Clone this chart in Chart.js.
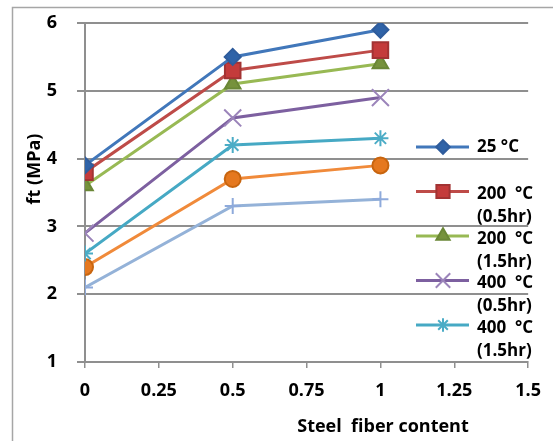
<!DOCTYPE html>
<html>
<head>
<meta charset="utf-8">
<script src="https://cdn.jsdelivr.net/npm/chart.js@4.4.0/dist/chart.umd.min.js"></script>
<style>
  html, body { margin: 0; padding: 0; background: #fff; }
  #wrap { width: 553px; height: 441px; }
</style>
</head>
<body>
<div id="wrap"><canvas id="myChart"></canvas></div>
<script>
// steel fiber content (x) and ft (MPa) per exposure
var fiber = [0, 0.5, 1];
var t25 = [3.9, 5.5, 5.9];
var t200h05 = [3.8, 5.3, 5.6];
var t200h15 = [3.6, 5.1, 5.4];
var t400h05 = [2.9, 4.6, 4.9];
var t400h15 = [2.6, 4.2, 4.3];
var t600h05 = [2.4, 3.7, 3.9];
var t600h15 = [2.1, 3.3, 3.4];

var seriesNames = ['25 °C', '200  °C\n(0.5hr)', '200  °C\n(1.5hr)', '400  °C\n(0.5hr)', '400  °C\n(1.5hr)', '600  °C\n(0.5hr)', '600  °C\n(1.5hr)'];
var xTicks = [0, 0.25, 0.5, 0.75, 1, 1.25, 1.5];
var yTicks = [1, 2, 3, 4, 5, 6];

var FONT = '"Open Sans", Lato, sans-serif';

function pts(vals) {
    return fiber.map(function(x, i) { return { x: x, y: vals[i] }; });
}

function series(i, vals, color, style, radius, markFill, markLine) {
    return {
        label: seriesNames[i],
        data: pts(vals),
        borderColor: color,
        borderWidth: 3,
        pointStyle: style,
        pointRadius: radius,
        pointHoverRadius: radius,
        pointBackgroundColor: markFill,
        pointBorderColor: markLine,
        pointBorderWidth: 2,
        tension: 0,
        fill: false
    };
}

// draws the frame, axis titles and the overlapping legend like the source
var decor = {
    id: 'decor',
    beforeDraw: function(chart) {
        var ctx = chart.ctx;
        ctx.save();
        ctx.strokeStyle = '#a6a6a6';
        ctx.lineWidth = 1.5;
        ctx.strokeRect(12.5, 7.5, 600, 500);
        ctx.restore();
    },
    afterDraw: function(chart) {
        var ctx = chart.ctx;
        ctx.save();
        ctx.fillStyle = '#000';
        ctx.font = 'bold 18px ' + FONT;
        ctx.textAlign = 'center';
        ctx.textBaseline = 'middle';
        ctx.fillText('Steel  fiber content', 383, 427);
        ctx.translate(35, 169);
        ctx.rotate(-Math.PI / 2);
        ctx.fillText('ft (MPa)', 0, 0);
        ctx.restore();

        // legend: only five entries fit in the original
        ctx.save();
        for (var i = 0; i < 5; i++) {
            var ds = chart.data.datasets[i];
            var y = 147 + i * 44.5;
            ctx.strokeStyle = ds.borderColor;
            ctx.lineWidth = 3;
            ctx.beginPath();
            ctx.moveTo(416, y);
            ctx.lineTo(469, y);
            ctx.stroke();
            ctx.fillStyle = ds.pointBackgroundColor;
            ctx.strokeStyle = ds.pointBorderColor;
            ctx.lineWidth = 2;
            Chart.helpers.drawPoint(ctx, {
                pointStyle: ds.pointStyle, radius: ds.pointRadius * 0.85, rotation: 0, borderWidth: 2
            }, 443, y);
            var lines = ds.label.split('\n');
            ctx.fillStyle = '#000';
            ctx.font = 'bold 17px ' + FONT;
            ctx.textAlign = 'left';
            ctx.textBaseline = 'middle';
            for (var k = 0; k < lines.length; k++) {
                ctx.fillText(lines[k], 477, y + (lines.length > 1 ? 3 : 0) + k * 23);
            }
        }
        ctx.restore();
    }
};

new Chart(document.getElementById('myChart').getContext('2d'), {
    type: 'line',
    data: {
        datasets: [
            series(0, t25, '#4177BA', 'rectRot', 8, '#2F63A8', '#2F5C9C'),
            series(1, t200h05, '#BE4B48', 'rect', 11, '#C43B3B', '#A23333'),
            series(2, t200h15, '#98B954', 'triangle', 9, '#76923C', '#6A8736'),
            series(3, t400h05, '#7D60A0', 'crossRot', 12, '#9B84BA', '#9B84BA'),
            series(4, t400h15, '#46A9C4', 'star', 8, '#4BACC6', '#4BACC6'),
            series(5, t600h05, '#F08A3A', 'circle', 8, '#E5781F', '#C8650F'),
            series(6, t600h15, '#94B2D8', 'cross', 8, '#8EAADB', '#8EAADB')
        ]
    },
    options: {
        responsive: true,
        maintainAspectRatio: false,
        animation: false,
        events: [],
        layout: { padding: { top: 23, right: 20, left: 0, bottom: 0 } },
        plugins: {
            legend: { display: false },
            tooltip: { enabled: false }
        },
        scales: {
            x: {
                type: 'linear',
                min: 0,
                max: 1.5,
                afterBuildTicks: function(s) { s.ticks = xTicks.map(function(v) { return { value: v }; }); },
                afterFit: function(s) { s.height = 79; },
                grid: { drawOnChartArea: false, color: '#8f8f8f', lineWidth: 1.5, tickLength: 6 },
                border: { color: '#8f8f8f', width: 2 },
                ticks: {
                    color: '#000', padding: 12, maxRotation: 0,
                    font: { family: FONT, size: 18, weight: 'bold' },
                    callback: function(v) { return String(v); }
                }
            },
            y: {
                min: 1,
                max: 6,
                afterBuildTicks: function(s) { s.ticks = yTicks.map(function(v) { return { value: v }; }); },
                afterFit: function(s) { s.width = 85; s.paddingTop = 10; s.paddingBottom = 10; },
                grid: { color: '#8f8f8f', lineWidth: 2, tickLength: 8 },
                border: { color: '#8f8f8f', width: 2 },
                ticks: { color: '#000', padding: 20, font: { family: FONT, size: 18, weight: 'bold' } }
            }
        }
    },
    plugins: [decor]
});
</script>
</body>
</html>
